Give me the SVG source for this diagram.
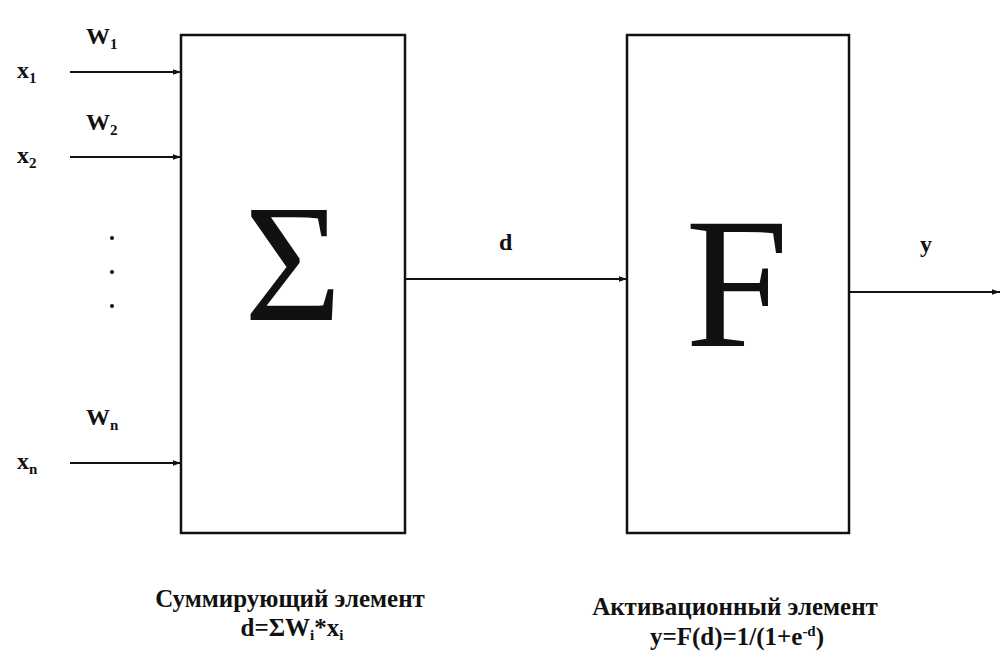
<svg xmlns="http://www.w3.org/2000/svg" width="1000" height="664" viewBox="0 0 1000 664">
<style>
.box{fill:#fff;stroke:#111;stroke-width:2.5}
.ln{stroke:#111;stroke-width:2;fill:none}
.t{font-family:'Liberation Serif','DejaVu Serif',serif;font-weight:bold;fill:#111}
.lab{font-size:24px}
.sub{font-size:15px}
.cap{font-size:25px;text-anchor:middle}
</style>
<defs>
<marker id="ah" viewBox="0 0 10 10" refX="10" refY="5" markerWidth="11" markerHeight="8" markerUnits="userSpaceOnUse" orient="auto">
<path d="M0,1.5 L10,5 L0,8.5 z" fill="#111"/>
</marker>
</defs>
<rect width="1000" height="664" fill="#fff"/>
<g id="connectors">
<line class="ln" x1="70" y1="72" x2="181" y2="72" marker-end="url(#ah)"/>
<line class="ln" x1="70" y1="157" x2="181" y2="157" marker-end="url(#ah)"/>
<line class="ln" x1="70" y1="463" x2="181" y2="463" marker-end="url(#ah)"/>
<line class="ln" x1="405" y1="279" x2="627" y2="279" marker-end="url(#ah)"/>
<line class="ln" x1="849" y1="292" x2="1000" y2="292" marker-end="url(#ah)"/>
</g>
<g id="inputs" font-family="Liberation Serif, DejaVu Serif, serif">
<text class="t lab" x="17" y="78">x<tspan class="sub" dy="5">1</tspan></text>
<text class="t lab" x="86" y="44">W<tspan class="sub" dy="5">1</tspan></text>
<text class="t lab" x="17" y="163">x<tspan class="sub" dy="5">2</tspan></text>
<text class="t lab" x="86" y="130">W<tspan class="sub" dy="5">2</tspan></text>
<text class="t lab" x="17" y="469">x<tspan class="sub" dy="5">n</tspan></text>
<text class="t lab" x="86" y="425">W<tspan class="sub" dy="5">n</tspan></text>
<circle cx="112" cy="238" r="2" fill="#111"/>
<circle cx="112" cy="272" r="2" fill="#111"/>
<circle cx="112" cy="306" r="2" fill="#111"/>
</g>
<g id="sum">
<rect class="box" x="181" y="35" width="224" height="498"/>
<text x="293" y="320" font-family="Liberation Serif,serif" font-size="168" text-anchor="middle" fill="#111">Σ</text>
</g>
<g id="act">
<rect class="box" x="627" y="35" width="222" height="498"/>
<text x="737" y="346" font-family="Liberation Serif,serif" font-size="186" text-anchor="middle" fill="#111">F</text>
</g>
<g id="labels">
<text class="t lab" x="499" y="250">d</text>
<text class="t lab" x="920" y="252">y</text>
<text class="t cap" x="290" y="607">Суммирующий элемент</text>
<text class="t cap" x="292" y="636">d=ΣW<tspan class="sub" dy="4">i</tspan><tspan dy="-4">*x</tspan><tspan class="sub" dy="4">i</tspan></text>
<text class="t cap" x="735" y="615">Активационный элемент</text>
<text class="t cap" x="737" y="645">y=F(d)=1/(1+e<tspan class="sub" dy="-9">-d</tspan><tspan dy="9">)</tspan></text>
</g>
</svg>
